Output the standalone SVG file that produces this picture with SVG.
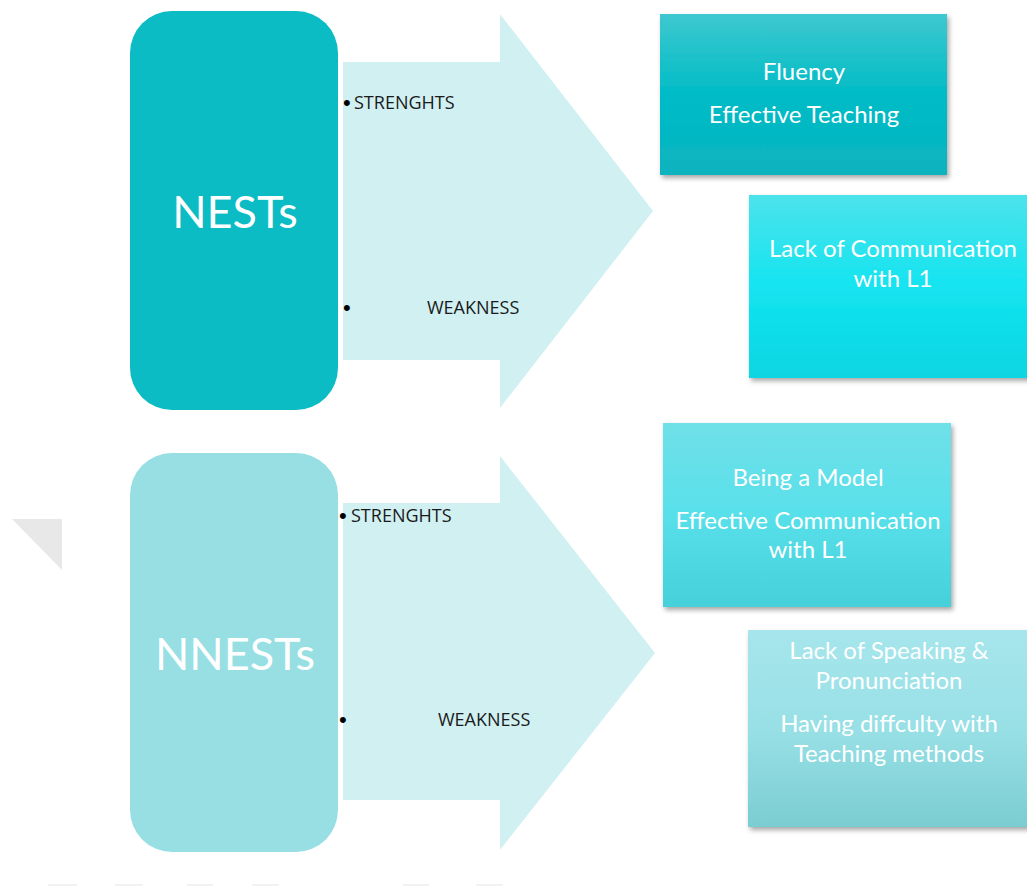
<svg xmlns="http://www.w3.org/2000/svg" width="1027" height="886" viewBox="0 0 1027 886">
<defs>
<linearGradient id="g1" x1="0" y1="0" x2="0" y2="1"><stop offset="0" stop-color="#3ec8cf"/><stop offset="0.5" stop-color="#00bcc6"/><stop offset="1" stop-color="#0ab3bf"/></linearGradient>
<linearGradient id="g2" x1="0" y1="0" x2="0" y2="1"><stop offset="0" stop-color="#4ce3eb"/><stop offset="0.5" stop-color="#14e4f0"/><stop offset="1" stop-color="#08d6e2"/></linearGradient>
<linearGradient id="g3" x1="0" y1="0" x2="0" y2="1"><stop offset="0" stop-color="#70e0e8"/><stop offset="0.5" stop-color="#58e0ea"/><stop offset="1" stop-color="#45d0da"/></linearGradient>
<linearGradient id="g4" x1="0" y1="0" x2="0" y2="1"><stop offset="0" stop-color="#a6e6ec"/><stop offset="0.5" stop-color="#98e0e6"/><stop offset="1" stop-color="#7acdd2"/></linearGradient>
<filter id="sh" x="-10%" y="-10%" width="125%" height="130%"><feDropShadow dx="2" dy="3" stdDeviation="2.5" flood-color="#000" flood-opacity="0.35"/></filter>
</defs>
<style>
.big{font-family:Lato,"Open Sans","Liberation Sans",sans-serif;font-size:45px;fill:#fff;text-anchor:middle}
.bt{font-family:Lato,"Open Sans","Liberation Sans",sans-serif;font-size:24px;fill:#fff;text-anchor:middle}
.lbl{font-family:"Open Sans","Liberation Sans",sans-serif;font-size:18px;fill:#1a1a1a}
.bul{font-family:"Liberation Sans",sans-serif;font-size:22px;fill:#000}
.arrow{fill:#d1f0f2}
</style>
<rect width="1027" height="886" fill="#fff"/>
<polygon points="12,519 62,519 62,570" fill="#e8e8e8"/>
<g fill="#f2f2f2">
<rect x="48" y="884" width="29" height="2"/><rect x="115" y="884" width="28" height="2"/><rect x="187" y="884" width="26" height="2"/><rect x="252" y="884" width="27" height="2"/><rect x="403" y="884" width="26" height="2"/><rect x="476" y="884" width="27" height="2"/>
</g>
<g id="connectors">
<polygon class="arrow" points="343,62 500,62 500,14 653,211 500,408 500,360 343,360"/>
<polygon class="arrow" points="343,503 500,503 500,456 655,653 500,850 500,800 343,800"/>
<text class="bul" x="343" y="110">•</text><text class="lbl" x="354" y="109">STRENGHTS</text>
<text class="bul" x="343" y="315">•</text><text class="lbl" x="427" y="314">WEAKNESS</text>
<text class="bul" x="339" y="523">•</text><text class="lbl" x="351" y="522">STRENGHTS</text>
<text class="bul" x="339" y="727">•</text><text class="lbl" x="438" y="726">WEAKNESS</text>
</g>
<g id="nests">
<rect x="130" y="11" width="208" height="399" rx="42" fill="#0bbcc4"/>
<text class="big" x="235" y="228">NESTs</text>
</g>
<g id="nnests">
<rect x="130" y="453" width="208" height="399" rx="42" fill="#98dfe4"/>
<text class="big" x="235" y="670">NNESTs</text>
</g>
<g id="box1">
<rect x="660" y="14" width="287" height="161" fill="url(#g1)" filter="url(#sh)"/>
<text class="bt" x="804" y="80">Fluency</text>
<text class="bt" x="804" y="123">Effective Teaching</text>
</g>
<g id="box2">
<rect x="749" y="195" width="290" height="183" fill="url(#g2)" filter="url(#sh)"/>
<text class="bt" x="893" y="257">Lack of Communication</text>
<text class="bt" x="893" y="287">with L1</text>
</g>
<g id="box3">
<rect x="663" y="423" width="288" height="184" fill="url(#g3)" filter="url(#sh)"/>
<text class="bt" x="808" y="486">Being a Model</text>
<text class="bt" x="808" y="529">Effective Communication</text>
<text class="bt" x="808" y="558">with L1</text>
</g>
<g id="box4">
<rect x="748" y="630" width="290" height="197" fill="url(#g4)" filter="url(#sh)"/>
<text class="bt" x="889" y="659">Lack of Speaking &amp;</text>
<text class="bt" x="889" y="689">Pronunciation</text>
<text class="bt" x="889" y="732">Having diffculty with</text>
<text class="bt" x="889" y="762">Teaching methods</text>
</g>
</svg>
